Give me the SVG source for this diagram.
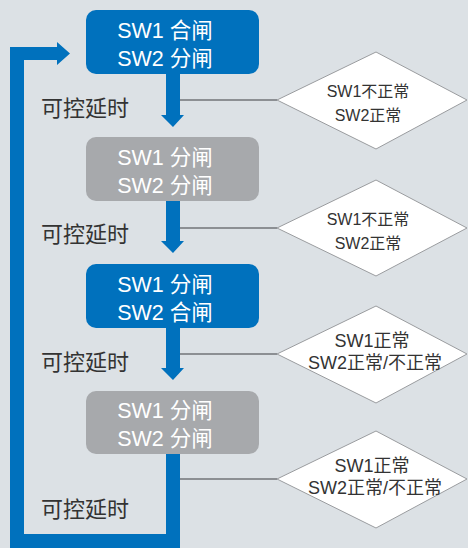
<svg xmlns="http://www.w3.org/2000/svg" width="468" height="548" viewBox="0 0 468 548">
<style>
.bg{fill:#DCE1E5}
.blue{fill:#0071BD}
.grey{fill:#A7A9AC}
.bt{fill:#ffffff;font-family:"Liberation Sans","Noto Sans CJK SC",sans-serif;font-size:21.5px;text-anchor:middle}
.dia{fill:#ffffff;stroke:#9A9C9F;stroke-width:1}
.dt{fill:#333333;font-family:"Liberation Sans","Noto Sans CJK SC",sans-serif;font-size:16px;text-anchor:middle}
.dt2{font-size:18px}
.lab{fill:#333333;font-family:"Noto Sans CJK SC",sans-serif;font-size:22px}
.link{stroke:#8C8F93;stroke-width:2;fill:none}
.flow{fill:#0071BD}
</style>
<rect class="bg" x="0" y="0" width="468" height="548"/>

<g id="connectors">
  <line class="link" x1="180" y1="100" x2="277" y2="100"/>
  <line class="link" x1="180" y1="228" x2="277" y2="228"/>
  <line class="link" x1="180" y1="354" x2="277" y2="354"/>
  <line class="link" x1="180" y1="479" x2="277" y2="479"/>
  <path class="flow" d="M166,74 H180 V115 H184 L173,127 L161,115 H166 Z"/>
  <path class="flow" d="M166,201 H180 V241 H184 L173,253 L161,241 H166 Z"/>
  <path class="flow" d="M166,328 H180 V368 H184 L173,380 L161,368 H166 Z"/>
  <path class="flow" d="M166,454 H180 V548 H10 V47 H57 V42 L70,53.5 L57,65 V60 H24 V534 H166 Z"/>
</g>

<g id="n1">
  <rect class="blue" x="86" y="10" width="173" height="64" rx="10"/>
  <text class="bt" x="165" y="38">SW1 合闸</text>
  <text class="bt" x="165" y="66">SW2 分闸</text>
</g>
<g id="n2">
  <rect class="grey" x="86" y="137" width="173" height="64" rx="10"/>
  <text class="bt" x="165" y="165">SW1 分闸</text>
  <text class="bt" x="165" y="193">SW2 分闸</text>
</g>
<g id="n3">
  <rect class="blue" x="86" y="264" width="173" height="64" rx="10"/>
  <text class="bt" x="165" y="292">SW1 分闸</text>
  <text class="bt" x="165" y="320">SW2 合闸</text>
</g>
<g id="n4">
  <rect class="grey" x="86" y="391" width="173" height="63" rx="10"/>
  <text class="bt" x="165" y="418">SW1 分闸</text>
  <text class="bt" x="165" y="446">SW2 分闸</text>
</g>

<g id="d1">
  <polygon class="dia" points="277,100 376,52 467,100 376,149"/>
  <text class="dt" x="368" y="97">SW1不正常</text>
  <text class="dt" x="368" y="121">SW2正常</text>
</g>
<g id="d2">
  <polygon class="dia" points="277,228 376,180 467,228 376,276"/>
  <text class="dt" x="368" y="225">SW1不正常</text>
  <text class="dt" x="368" y="249">SW2正常</text>
</g>
<g id="d3">
  <polygon class="dia" points="277,354 376,306 467,354 376,403"/>
  <text class="dt dt2" x="372" y="347">SW1正常</text>
  <text class="dt dt2" x="375" y="369">SW2正常/不正常</text>
</g>
<g id="d4">
  <polygon class="dia" points="277,479 376,431 467,479 376,528"/>
  <text class="dt dt2" x="372" y="472">SW1正常</text>
  <text class="dt dt2" x="375" y="494">SW2正常/不正常</text>
</g>

<g id="labels">
  <text class="lab" x="41" y="116">可控延时</text>
  <text class="lab" x="41" y="242">可控延时</text>
  <text class="lab" x="41" y="370">可控延时</text>
  <text class="lab" x="41" y="517">可控延时</text>
</g>
</svg>
